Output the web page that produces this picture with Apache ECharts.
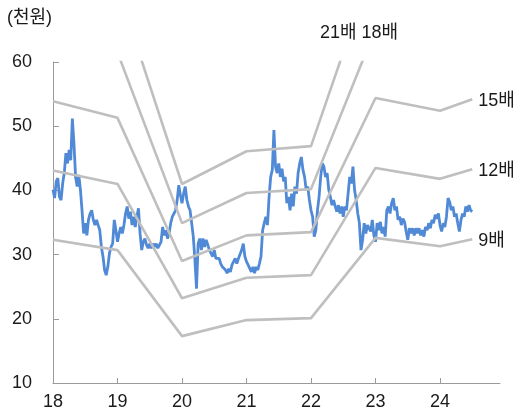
<!DOCTYPE html>
<html>
<head>
<meta charset="utf-8">
<script src="https://cdn.jsdelivr.net/npm/echarts@6/dist/echarts.min.js"></script>
<style>
html,body{margin:0;padding:0;background:#fff;}
#chart{width:518px;height:412px;}
</style>
</head>
<body>
<div id="chart"></div>
<script>
// x tick labels (years, 2-digit)
const yearTicks = [18, 19, 20, 21, 22, 23, 24];
// y tick labels
const yTicks = [10, 20, 30, 40, 50, 60];

// PER band points (year, price in 천원)
const bandX = [18, 19, 20, 21, 22, 23, 24, 24.5];
const per9  = [32.3, 30.7, 17.3, 19.8, 20.1, 32.6, 31.3, 32.4];
const per12 = [43.1, 41.0, 23.2, 26.4, 26.8, 43.5, 41.8, 43.3];
const per15 = [53.9, 51.3, 29.0, 33.0, 33.5, 54.4, 52.4, 54.2];
const per18 = [64.6, 61.5, 34.9, 39.6, 40.2, 65.2, 62.6, 65.0];
const per21 = [75.4, 71.7, 41.0, 46.1, 46.9, 76.1, 73.1, 75.8];
const bandNames = ['9배', '12배', '15배', '18배', '21배'];

// Share price (천원), sampled every 0.025 year from 18.0
const priceStart = 18;
const priceStep = 0.025;
const price = [
40.1,38.8,41.4,41.9,39.0,38.5,41.1,42.7,45.8,44.2,46.3,44.7,51.2,47.3,42.1,40.6,42.4,40.1,36.9,33.3,
34.9,33.0,35.4,36.4,36.9,35.4,34.6,35.4,34.6,33.8,31.2,29.7,27.6,26.8,28.1,30.2,31.2,31.7,35.4,33.8,
32.0,33.3,34.3,33.3,34.6,36.4,37.5,35.6,36.7,34.6,35.9,34.3,35.9,37.2,33.3,30.7,32.0,32.5,31.5,31.0,
31.7,31.0,31.7,31.2,31.7,31.0,
31.2,32.0,34.3,33.0,33.8,32.5,33.3,34.9,35.9,36.4,36.9,38.5,40.8,39.3,38.0,39.5,40.6,38.5,37.5,36.9,
34.9,32.8,29.2,24.7,31.7,32.5,30.7,32.5,31.2,32.3,32.5,30.7,30.2,29.7,30.7,29.4,29.2,29.4,28.6,28.1,
28.4,27.6,27.1,27.8,27.3,28.4,28.6,29.4,28.6,29.4,29.7,30.7,31.7,29.7,28.9,28.4,28.1,27.3,28.1,27.1,
28.1,27.6,28.6,29.7,33.8,
34.9,35.9,34.6,39.0,42.1,43.2,49.4,43.7,42.7,44.2,42.1,43.4,41.4,42.1,38.0,39.0,36.9,39.5,37.5,40.6,
39.5,42.7,44.2,45.2,43.2,42.1,40.1,40.6,38.5,36.9,35.9,32.8,33.8,36.9,39.0,42.1,44.2,43.7,42.1,42.7,
40.1,39.0,37.7,38.5,37.5,36.7,37.7,36.4,37.5,35.9,37.5,36.9,39.5,42.1,41.1,43.7,40.1,38.5,36.4,34.9,
30.7,32.3,34.9,33.3,34.6,
34.9,33.6,35.4,33.0,32.0,34.9,33.8,35.1,33.3,34.3,32.8,36.9,37.5,36.4,38.0,38.8,36.9,37.5,35.4,35.9,
34.6,35.6,35.1,33.6,32.3,34.1,33.3,34.1,33.0,34.1,33.3,34.1,33.0,33.8,32.8,34.3,33.8,34.9,34.1,35.4,
34.9,36.2,35.6,36.4,34.6,33.6,34.9,34.3,35.9,38.8,38.2,36.9,37.5,35.9,36.4,34.9,33.6,35.4,36.4,35.9,
37.5,36.7,37.7,36.9,36.7
];

const FONT = "'Liberation Sans', 'Noto Sans CJK KR', sans-serif";
const TXT = '#1a1a1a';
const GRAY = '#bfbfbf';
const AXIS = '#9a9a9a';

const priceData = price.map((v, i) => [priceStart + i * priceStep, v]);
const bands = [per9, per12, per15, per18, per21];

const series = [{
  type: 'line',
  name: '주가',
  data: priceData,
  showSymbol: false,
  lineStyle: { color: '#5089d6', width: 2.8 },
  z: 2,
  animation: false
}];
bands.forEach((arr, k) => {
  const showEnd = k < 3;
  series.push({
    type: 'line',
    name: bandNames[k],
    data: bandX.map((x, i) => [x, arr[i]]),
    showSymbol: false,
    lineStyle: { color: GRAY, width: 2.6 },
    z: 3,
    animation: false,
    endLabel: {
      show: showEnd,
      formatter: '{a}',
      color: TXT,
      fontFamily: FONT,
      fontSize: 18,
      distance: 6,
      offset: [0, 2]
    }
  });
});

const chart = echarts.init(document.getElementById('chart'), null, { renderer: 'canvas' });
chart.setOption({
  backgroundColor: '#ffffff',
  animation: false,
  grid: { left: 53, right: 18, top: 62, bottom: 29, containLabel: false },
  xAxis: {
    type: 'value',
    min: 18,
    max: 24.93,
    interval: 1,
    splitLine: { show: false },
    axisLine: { show: true, lineStyle: { color: AXIS, width: 1 } },
    axisTick: { show: true, length: 5, inside: true, lineStyle: { color: AXIS }, customValues: yearTicks },
    axisLabel: { color: TXT, fontFamily: FONT, fontSize: 18, margin: 10, customValues: yearTicks, formatter: v => String(v) }
  },
  yAxis: {
    type: 'value',
    min: 10,
    max: 60,
    interval: 10,
    splitLine: { show: false },
    axisLine: { show: true, lineStyle: { color: AXIS, width: 1 } },
    axisTick: { show: true, length: 6, inside: true, lineStyle: { color: AXIS } },
    axisLabel: { color: TXT, fontFamily: FONT, fontSize: 18, margin: 21, customValues: yTicks }
  },
  graphic: [
    { type: 'text', left: 7, top: 9, style: { text: '(천원)', fill: TXT, font: '18px ' + FONT } },
    { type: 'text', left: 320, top: 24, style: { text: '21배 18배', fill: TXT, font: '18px ' + FONT } }
  ],
  series: series
});
</script>
</body>
</html>
